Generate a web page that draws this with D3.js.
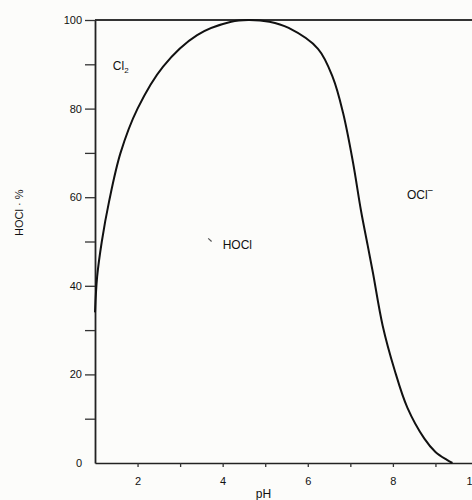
<!DOCTYPE html>
<html>
<head>
<meta charset="utf-8">
<script src="https://cdn.jsdelivr.net/npm/d3@7"></script>
<style>
  body { margin: 0; background: #fcfcfa; }
  svg text { font-family: "Liberation Sans", Arial, sans-serif; fill: #111; }
</style>
</head>
<body>
<div id="chart"></div>
<script>
// HOCl fraction vs pH
var phValues = [1.0, 1.05, 1.16, 1.33, 1.6, 2.0, 2.6, 3.4, 4.2, 4.6, 5.1, 5.55, 6.24, 6.59, 6.83, 7.06, 7.25, 7.41, 7.53, 7.76, 8.04, 8.34, 8.74, 9.0, 9.27, 9.4];
var hoclPct = [34, 42, 50, 59, 70, 80, 89.5, 96.6, 99.6, 100, 99.6, 98.2, 93.5, 87, 79, 68, 57, 49, 43, 31, 21, 12.5, 5.5, 2.5, 0.7, 0];

var xTicks = [2, 3, 4, 5, 6, 7, 8, 9, 10];
var xTickLabels = ["2", "", "4", "", "6", "", "8", "", "10"];
var yTicks = [0, 10, 20, 30, 40, 50, 60, 70, 80, 90, 100];
var yTickLabels = ["0", "", "20", "", "40", "", "60", "", "80", "", "100"];

var regionLabels = [
    { text: "Cl", sub: "2", ph: 1.42, pct: 88.8 },
    { text: "HOCl", sub: "", ph: 4.0, pct: 48.2 },
    { text: "OCl", sup: "\u2212", ph: 8.33, pct: 59.5 }
];

var width = 472, height = 500;
var margin = { top: 20, left: 95, bottom: 37 };

var svg = d3.select("#chart").append("svg")
    .attr("width", width)
    .attr("height", height);

var x = d3.scaleLinear().domain([1, 10]).range([margin.left, 478]);
var y = d3.scaleLinear().domain([0, 100]).range([height - margin.bottom, margin.top]);

// top frame line
svg.append("line")
    .attr("x1", x(1)).attr("x2", x(10))
    .attr("y1", y(100)).attr("y2", y(100))
    .attr("stroke", "#333").attr("stroke-width", 2);

// x axis
var xAxis = svg.append("g")
    .attr("transform", "translate(0," + y(0) + ")")
    .call(d3.axisBottom(x)
        .tickValues(xTicks)
        .tickSize(4)
        .tickSizeOuter(0)
        .tickPadding(10)
        .tickFormat(function (d, i) { return xTickLabels[i]; }));
xAxis.select(".domain").attr("stroke", "#222").attr("stroke-width", 1.6);
xAxis.selectAll(".tick line").attr("stroke", "#333").attr("stroke-width", 1.3);
xAxis.selectAll("text").style("font-size", "11px");
// the scan shows the "10" slightly left of its tick, cut by the edge
xAxis.selectAll(".tick").filter(function (d) { return d === 10; })
    .select("text").attr("dx", -6);

// y axis
var yAxis = svg.append("g")
    .attr("transform", "translate(" + x(1) + ",0)")
    .call(d3.axisLeft(y)
        .tickValues(yTicks)
        .tickSize(10)
        .tickSizeOuter(0)
        .tickPadding(3)
        .tickFormat(function (d, i) { return yTickLabels[i]; }));
yAxis.select(".domain").attr("stroke", "#222").attr("stroke-width", 1.8);
yAxis.selectAll(".tick line").attr("stroke", "#333").attr("stroke-width", 1.3);
yAxis.selectAll("text").style("font-size", "11px");
yAxis.selectAll(".tick").filter(function (d) { return d === 0; })
    .select("line").attr("stroke", "none");

// the curve
svg.append("path")
    .datum(phValues.map(function (p, i) { return [p, hoclPct[i]]; }))
    .attr("fill", "none")
    .attr("stroke", "#111")
    .attr("stroke-width", 2)
    .attr("d", d3.line()
        .curve(d3.curveCatmullRom.alpha(0.5))
        .x(function (d) { return x(d[0]); })
        .y(function (d) { return y(d[1]); }));

// region labels
regionLabels.forEach(function (r) {
    var t = svg.append("text")
        .attr("x", x(r.ph))
        .attr("y", y(r.pct))
        .style("font-size", "12px")
        .text(r.text);
    if (r.sub) {
        t.append("tspan").attr("dy", 3).style("font-size", "8px").text(r.sub);
    }
    if (r.sup) {
        t.append("tspan").attr("dy", -5).style("font-size", "10px").text(r.sup);
    }
});

// small leader mark before HOCl
svg.append("line")
    .attr("x1", x(3.66)).attr("y1", y(50.7))
    .attr("x2", x(3.74)).attr("y2", y(50.0))
    .attr("stroke", "#555").attr("stroke-width", 1.2);

// axis titles
svg.append("text")
    .attr("x", x(4.96))
    .attr("y", 498)
    .attr("text-anchor", "middle")
    .style("font-size", "12px")
    .text("pH");

svg.append("text")
    .attr("transform", "translate(23," + y(56.5) + ") rotate(-90)")
    .attr("text-anchor", "middle")
    .style("font-size", "11px")
    .text("HOCl \u00b7 %");
</script>
</body>
</html>
